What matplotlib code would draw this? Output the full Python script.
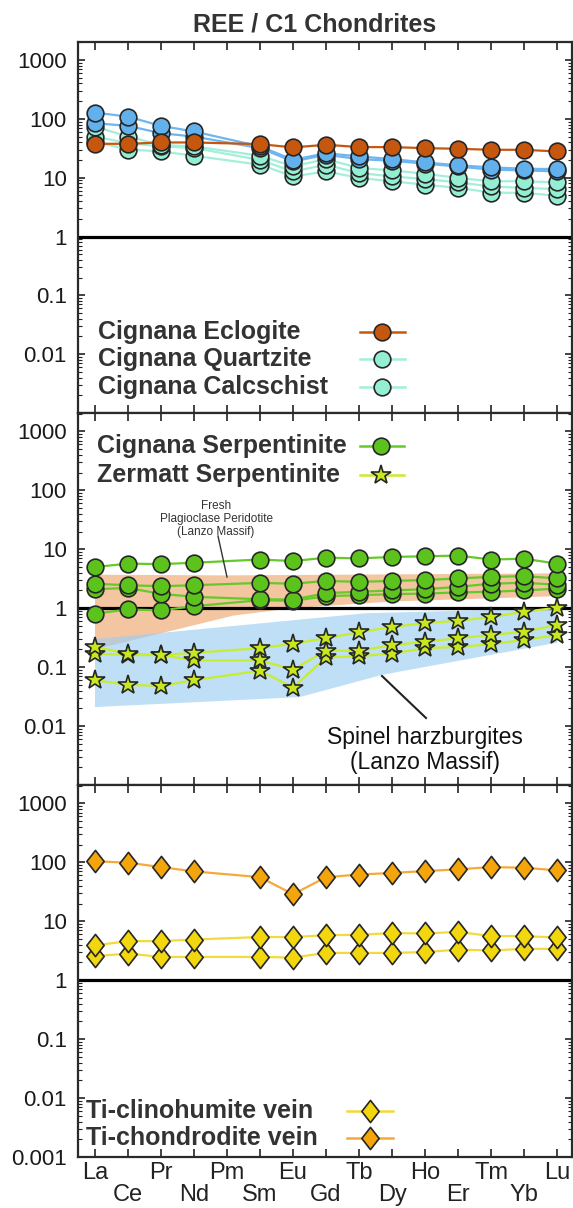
import numpy as np
import matplotlib
matplotlib.use("Agg")
import matplotlib.pyplot as plt
from matplotlib.lines import Line2D
from matplotlib.path import Path
from matplotlib.ticker import LogLocator, NullFormatter, FixedLocator, FixedFormatter
from matplotlib.transforms import blended_transform_factory

plt.rcParams['font.family'] = ['Liberation Sans', 'DejaVu Sans']

# ---------------- data ----------------
elements = ["La", "Ce", "Pr", "Nd", "Pm", "Sm", "Eu", "Gd", "Tb", "Dy", "Ho", "Er", "Tm", "Yb", "Lu"]
N = None

# Panel 1 : Cignana metasediments / eclogite
eclogite   = [37.7, 37.7, 39.7, 39.7, N, 37.2, 32.7, 36.3, 33.1, 33.1, 31.8, 31.0, 29.8, 29.8, 27.9]
quartz_b1  = [128, 109, 76, 61, N, 34, 20.2, 26, 23, 20.7, 18.2, 16.2, 15.0, 14.2, 14.0]
quartz_b2  = [84.5, 76, 57, 50, N, 31.8, 18.9, 24.5, 20.7, 19.4, 17.3, 15.5, 13.7, 13.3, 12.8]
calc_1     = [74, 50, 36, 34, N, 23.6, 15.6, 20.7, 14.6, 13.3, 11.7, 9.9, 8.7, 8.7, 8.3]
calc_2     = [50, 38.7, 34, 32, N, 20, 12.8, 16.6, 12.0, 10.5, 9.5, 8.3, 7.1, 6.7, 6.4]
calc_3     = [41, 30, 28, 23.6, N, 16.6, 10.5, 12.8, 9.9, 8.7, 7.6, 6.7, 5.6, 5.5, 4.95]

# Panel 2 : serpentinites
serp_c1 = [5.0, 5.7, 5.6, 5.9, N, 6.7, 6.3, 7.2, 7.0, 7.4, 7.6, 7.8, 6.7, 6.9, 5.7]
serp_c2 = [2.6, 2.45, 2.36, 2.45, N, 2.69, 2.6, 2.9, 2.8, 2.9, 3.0, 3.2, 3.4, 3.5, 3.2]
serp_c3 = [2.1, 2.2, 1.75, 1.56, N, 1.42, 1.4, 1.8, 1.9, 2.0, 2.1, 2.3, 2.6, 2.7, 2.5]
serp_c4 = [0.81, 0.95, 0.92, 1.08, N, 1.37, 1.33, 1.6, 1.66, 1.73, 1.77, 1.85, 1.9, 2.0, 2.15]
serp_z1 = [0.22, 0.17, 0.16, 0.175, N, 0.21, 0.25, 0.31, 0.39, 0.48, 0.56, 0.61, 0.71, 0.87, 1.02]
serp_z2 = [0.17, 0.16, 0.16, 0.13, N, 0.13, 0.091, 0.19, 0.19, 0.236, 0.27, 0.31, 0.35, 0.40, 0.52]
serp_z3 = [0.060, 0.050, 0.048, 0.060, N, 0.087, 0.045, 0.146, 0.153, 0.17, 0.21, 0.22, 0.245, 0.29, 0.35]

# literature fields (Lanzo Massif)
plag_perid_x = [0, 4, 14, 14, 9, 6, 4.2, 0]
plag_perid_y = [3.7, 3.6, 3.9, 1.6, 1.3, 1.0, 0.75, 0.2]
sp_harz_x = [0, 2.4, 8.2, 14, 14, 8.7, 6.2, 0]
sp_harz_y = [0.3, 0.4, 0.82, 1.0, 0.26, 0.074, 0.031, 0.021]

# Panel 3 : veins
chondrodite = [104, 98.7, 83, 70, N, 56, 28.7, 56, 62, 66, 71, 76, 83, 81, 73]
clinohum_1  = [3.9, 4.6, 4.6, 4.9, N, 5.4, 5.4, 5.8, 5.9, 6.3, 6.2, 6.6, 5.6, 5.6, 5.3]
clinohum_2  = [2.55, 2.83, 2.48, 2.48, N, 2.48, 2.42, 2.9, 2.9, 2.9, 3.0, 3.3, 3.2, 3.4, 3.4]

ytick_vals_12 = [1e-2, 1e-1, 1, 10, 100, 1000]
ytick_lab_12 = ["0.01", "0.1", "1", "10", "100", "1000"]
ytick_vals_3 = [1e-3, 1e-2, 1e-1, 1, 10, 100, 1000]
ytick_lab_3 = ["0.001", "0.01", "0.1", "1", "10", "100", "1000"]

# ---------------- styles ----------------
EDGE = '#262626'
TXT = '#333333'
diamond = Path([(0, 1), (0.78, 0), (0, -1), (-0.78, 0), (0, 1)],
               [Path.MOVETO, Path.LINETO, Path.LINETO, Path.LINETO, Path.CLOSEPOLY])

st_ecl = dict(color='#C6570F', marker='o', mfc='#C6570F', ms=12)
st_blue = dict(color='#6DB6F0', marker='o', mfc='#63B1EC', ms=12)
st_aqua = dict(color='#A3EFDA', marker='o', mfc='#93EED2', ms=12)
st_green = dict(color='#66C92A', marker='o', mfc='#5CC21C', ms=12)
st_star = dict(color='#C8EC2E', marker='*', mfc='#C6E81C', ms=14.5)
st_chon = dict(color='#F4A93A', marker=diamond, mfc='#F4A50C', ms=16)
st_clin = dict(color='#F2DA3C', marker=diamond, mfc='#F2D60E', ms=16)

W, H = 573, 1208
fig = plt.figure(figsize=(W / 100, H / 100), dpi=100)


def fx(px):
    return px / W


def fy(py):
    return 1 - py / H


panels_px = [(41.7, 413), (413, 785), (785, 1157)]
axes = []
for top, bot in panels_px:
    ax = fig.add_axes([fx(78), fy(bot), fx(572) - fx(78), (bot - top) / H])
    axes.append(ax)


def setup(ax, tv, tl):
    ax.set_yscale('log')
    ax.set_ylim(1e-3, 2.05e3)
    ax.set_xlim(-0.515, 14.45)
    ax.yaxis.set_major_locator(FixedLocator(tv))
    ax.yaxis.set_major_formatter(FixedFormatter(tl))
    ax.yaxis.set_minor_locator(LogLocator(base=10, subs=np.arange(2, 10), numticks=20))
    ax.yaxis.set_minor_formatter(NullFormatter())
    ax.set_xticks(range(len(elements)))
    ax.tick_params(axis='both', which='both', direction='in', left=True, right=True,
                   top=True, bottom=True, labelbottom=False, color='#222222')
    ax.tick_params(axis='y', which='major', length=5, width=1.2, labelsize=16,
                   labelcolor='#1a1a1a', pad=8)
    ax.tick_params(axis='y', which='minor', length=3, width=0.8)
    ax.tick_params(axis='x', which='major', length=5.5, width=1.2)
    for s in ax.spines.values():
        s.set_linewidth(1.6)
        s.set_color('#2a2a2a')
    ax.axhline(1, color='black', lw=2.3, zorder=2)


def plot_series(ax, vals, st, z):
    x = [i for i, v in enumerate(vals) if v is not None]
    y = [v for v in vals if v is not None]
    ax.plot(x, y, '-', lw=1.6, color=st['color'], zorder=z)
    ax.plot(x, y, linestyle='none', marker=st['marker'], ms=st['ms'], mfc=st['mfc'],
            mec=EDGE, mew=1.2, zorder=z + 0.5)


ax1, ax2, ax3 = axes
setup(ax1, ytick_vals_12, ytick_lab_12)
setup(ax2, ytick_vals_12, ytick_lab_12)
setup(ax3, ytick_vals_3, ytick_lab_3)

# panel 1
for v in (calc_3, calc_2, calc_1):
    plot_series(ax1, v, st_aqua, 3)
for v in (quartz_b2, quartz_b1):
    plot_series(ax1, v, st_blue, 4)
plot_series(ax1, eclogite, st_ecl, 5)

# panel 2
ax2.fill(plag_perid_x, plag_perid_y, color='#F3C5A0', lw=0, zorder=1)
ax2.fill(sp_harz_x, sp_harz_y, color='#9CCFF2', alpha=0.65, lw=0, zorder=1.1)
for v in (serp_z3, serp_z2, serp_z1):
    plot_series(ax2, v, st_star, 3)
for v in (serp_c4, serp_c3, serp_c2, serp_c1):
    plot_series(ax2, v, st_green, 4)

# panel 3
for v in (clinohum_2, clinohum_1):
    plot_series(ax3, v, st_clin, 3)
plot_series(ax3, chondrodite, st_chon, 4)

# x labels (two staggered rows)
trans = blended_transform_factory(ax3.transData, fig.transFigure)
for i, el in enumerate(elements):
    ypx = 1173 if i % 2 == 0 else 1195
    ax3.text(i, fy(ypx), el, transform=trans, ha='center', va='center', fontsize=17,
             color='#222222')

# title
fig.text(fx(315), fy(24), "REE / C1 Chondrites", ha='center', va='center', fontsize=18,
         fontweight='bold', color=TXT)


# legends (text left, key right)
def legend(entries, x_text, x_key, x_l0, x_l1):
    for label, st, ypx in entries:
        fig.text(fx(x_text), fy(ypx + 8.8), label, ha='left', va='baseline', fontsize=18,
                 fontweight='bold', color=TXT)
        fig.add_artist(Line2D([fx(x_l0), fx(x_l1)], [fy(ypx + 2)] * 2, transform=fig.transFigure,
                              color=st['color'], lw=1.8))
        fig.add_artist(Line2D([fx(x_key)], [fy(ypx + 2)], transform=fig.transFigure,
                              marker=st['marker'], ms=st['ms'], mfc=st['mfc'], mec=EDGE,
                              mew=1.2, linestyle='none'))


legend([("Cignana Eclogite", st_ecl, 330), ("Cignana Quartzite", st_aqua, 357),
        ("Cignana Calcschist", st_aqua, 385)], 98, 382, 360, 405)
legend([("Cignana Serpentinite", st_green, 444), ("Zermatt Serpentinite", st_star, 473)],
       97, 381, 360, 404)
legend([("Ti-clinohumite vein", st_clin, 1109), ("Ti-chondrodite vein", st_chon, 1136)],
       86, 370, 347, 393)

# annotations panel 2
fig.text(fx(216), fy(519), "Fresh\nPlagioclase Peridotite\n(Lanzo Massif)", ha='center',
         va='center', fontsize=8.5, color='#333333', linespacing=1.15)
fig.add_artist(Line2D([fx(218), fx(227)], [fy(536), fy(577)], transform=fig.transFigure,
                      color='#333333', lw=1.0))
fig.text(fx(425), fy(750), "Spinel harzburgites\n(Lanzo Massif)", ha='center', va='center',
         fontsize=16.5, color='#111111', linespacing=1.15)
fig.add_artist(Line2D([fx(382), fx(426)], [fy(676), fy(718)], transform=fig.transFigure,
                      color='#222222', lw=1.5))

fig.savefig("out.png", dpi=100)
